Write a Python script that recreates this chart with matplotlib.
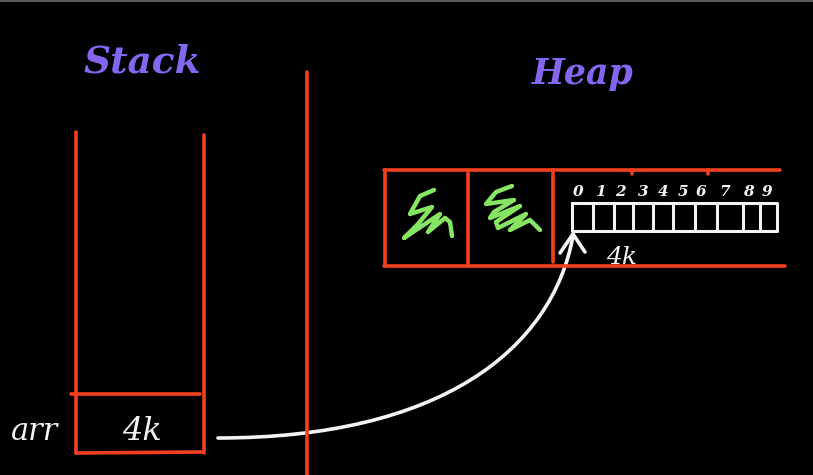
"""Stack vs heap sketch: an array reference on the stack pointing at the heap."""

import matplotlib
matplotlib.use("Agg")
import matplotlib.pyplot as plt
from matplotlib.path import Path
from matplotlib.patches import PathPatch

BG = "#000000"
RED = "#f2401f"
PURPLE = "#8466f2"
GREEN = "#86e663"
WHITE = "#f4f4f4"

# stack frame (pixel coordinates, y grows downward)
STACK_LEFT = 76
STACK_RIGHT = 204
STACK_TOP = 132
STACK_SLOT = 394
STACK_BOTTOM = 453

DIVIDER_X = 307

# heap block
HEAP_TOP = 170
HEAP_BOTTOM = 266
HEAP_LEFT = 385
HEAP_CELLS = [385, 468, 553]
HEAP_RIGHT = 782

# array inside the heap
ARR_LEFT, ARR_RIGHT = 572, 777
ARR_TOP, ARR_BOTTOM = 203, 231
ARR_DIVIDERS = [593, 614, 633, 653, 673, 695, 717, 743, 760]
INDEX_LABELS = ["0", "1", "2", "3", "4", "5", "6", "7", "8", "9"]
INDEX_X = [578, 600, 620, 643, 663, 683, 701, 725, 748, 767]

# green scribbles (old objects on the heap)
SCRIBBLE_A_X = [434, 420, 410, 432, 418, 404, 440, 428, 445, 450, 452]
SCRIBBLE_A_Y = [190, 196, 214, 207, 224, 238, 214, 232, 218, 222, 236]
SCRIBBLE_B_X = [512, 496, 486, 514, 494, 490, 520, 496, 498, 526, 510, 530, 540]
SCRIBBLE_B_Y = [186, 192, 204, 200, 212, 218, 206, 222, 228, 214, 230, 220, 230]

# pointer arrow, cubic bezier from the stack slot to the array start
ARROW_X = [218, 440, 552, 573]
ARROW_Y = [438, 438, 350, 236]

fig = plt.figure(figsize=(8.13, 4.75), dpi=100, facecolor=BG)
ax = fig.add_axes([0, 0, 1, 1])
ax.set_facecolor(BG)
ax.set_xlim(0, 813)
ax.set_ylim(475, 0)
ax.axis("off")

lw = 2.6
red = dict(color=RED, lw=lw, solid_capstyle="round")

# faint border at the top
ax.plot([0, 813], [1, 1], color="#5a5a5a", lw=1.5)

# titles
hand = dict(family="DejaVu Serif", style="italic")
ax.text(142, 62, "Stack", color=PURPLE, fontsize=27, ha="center", va="center",
        weight="bold", **hand)
ax.text(583, 74, "Heap", color=PURPLE, fontsize=25, ha="center", va="center",
        weight="bold", **hand)

# stack frame
ax.plot([STACK_LEFT, STACK_LEFT], [STACK_TOP, STACK_BOTTOM], **red)
ax.plot([STACK_RIGHT, STACK_RIGHT], [STACK_TOP + 3, STACK_BOTTOM], **red)
ax.plot([71, 200], [STACK_SLOT, STACK_SLOT], **red)
ax.plot([STACK_LEFT, 202], [STACK_BOTTOM, STACK_BOTTOM - 1], **red)
ax.text(35, 432, "arr", color=WHITE, fontsize=22, ha="center", va="center", **hand)
ax.text(142, 432, "4k", color=WHITE, fontsize=23, ha="center", va="center", **hand)

# divider
ax.plot([DIVIDER_X, DIVIDER_X], [72, 475], **red)

# heap block
ax.plot([HEAP_LEFT - 1, 780], [HEAP_TOP, HEAP_TOP], **red)
ax.plot([HEAP_LEFT - 1, 785], [HEAP_BOTTOM, HEAP_BOTTOM], **red)
for i, cx in enumerate(HEAP_CELLS):
    ax.plot([cx, cx], [HEAP_TOP, HEAP_BOTTOM - (4 if i == 2 else 0)], **red)
for tx in [632, 708]:
    ax.plot([tx, tx], [HEAP_TOP, HEAP_TOP + 4], **red)

ax.plot(SCRIBBLE_A_X, SCRIBBLE_A_Y, color=GREEN, lw=3.2,
        solid_capstyle="round", solid_joinstyle="round")
ax.plot(SCRIBBLE_B_X, SCRIBBLE_B_Y, color=GREEN, lw=3.2,
        solid_capstyle="round", solid_joinstyle="round")

# array cells
white = dict(color=WHITE, lw=2.2, solid_capstyle="round")
ax.plot([ARR_LEFT, ARR_RIGHT, ARR_RIGHT, ARR_LEFT, ARR_LEFT],
        [ARR_TOP, ARR_TOP, ARR_BOTTOM, ARR_BOTTOM, ARR_TOP], **white)
for dx in ARR_DIVIDERS:
    ax.plot([dx, dx], [ARR_TOP, ARR_BOTTOM - 2], **white)
for lbl, lx in zip(INDEX_LABELS, INDEX_X):
    ax.text(lx, 192, lbl, color=WHITE, fontsize=11, ha="center", va="center",
            weight="bold", **hand)
ax.text(622, 257, "4k", color=WHITE, fontsize=18, ha="center", va="center", **hand)

# pointer arrow
verts = list(zip(ARROW_X, ARROW_Y))
path = Path(verts, [Path.MOVETO, Path.CURVE4, Path.CURVE4, Path.CURVE4])
ax.add_patch(PathPatch(path, fill=False, edgecolor=WHITE, lw=2.6, capstyle="round"))
tip = (ARROW_X[-1], ARROW_Y[-1] - 2)
ax.plot([560, tip[0], 585], [253, tip[1], 252], color=WHITE, lw=2.6,
        solid_capstyle="round", solid_joinstyle="round")

fig.savefig("out.png", dpi=100, facecolor=BG)
